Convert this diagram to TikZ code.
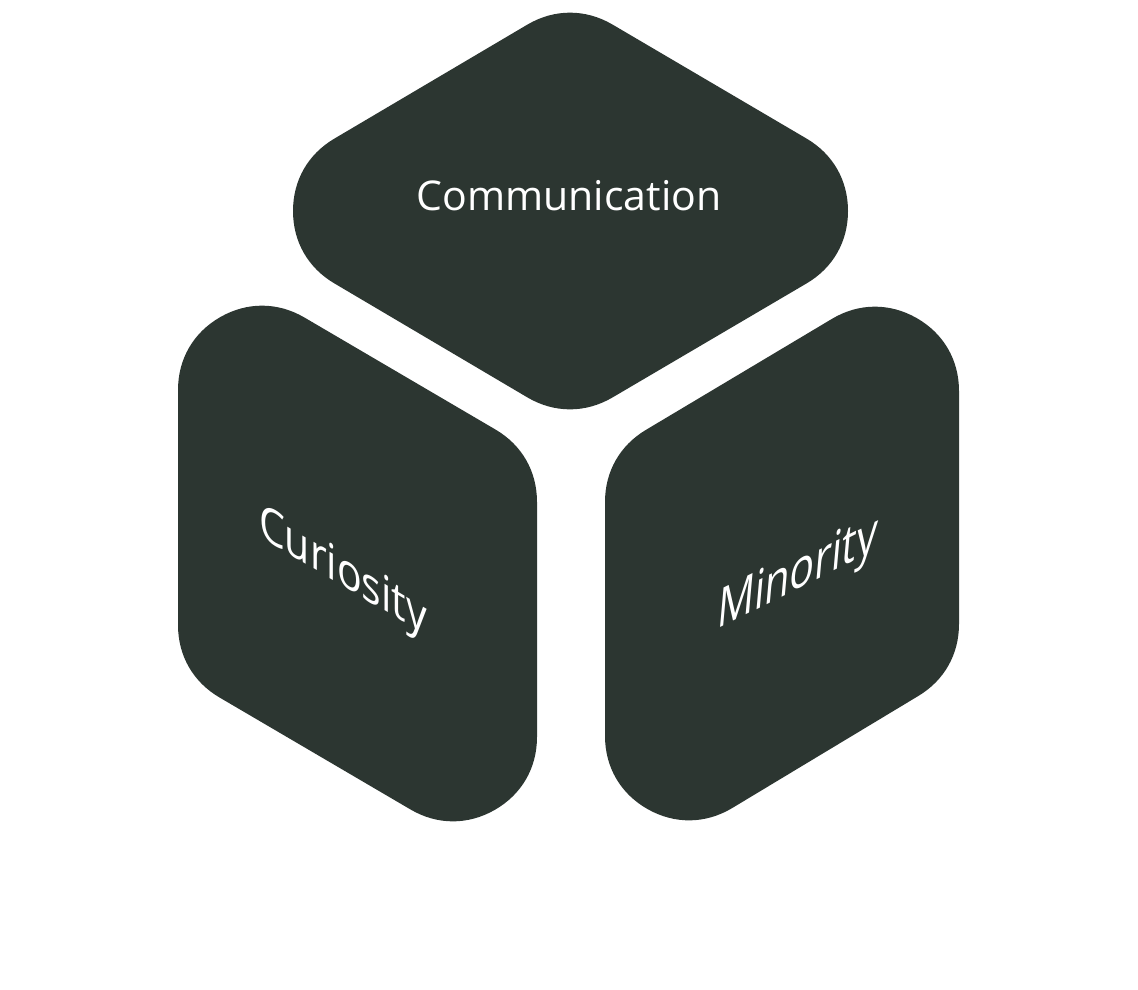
\documentclass[tikz,border=0pt]{standalone}
\usepackage{fontspec}
\setmainfont{Open Sans}
\definecolor{cubefill}{RGB}{44,54,49}
\begin{document}
\begin{tikzpicture}[x=1pt,y=-1pt,
  face/.style={fill=cubefill,draw=cubefill,line width=168pt,line join=round},
  lbl/.style={text=white,font=\fontsize{41}{49}\selectfont,inner sep=0pt}]
\useasboundingbox (0,0) rectangle (1138,989);
\fill[white] (0,0) rectangle (1138,989);
% top face
\draw[face] (377,211) -- (570,97) -- (764,211) -- (570,325) -- cycle;
% left face
\draw[face] (262,390) -- (453,502) -- (453,737) -- (262,625) -- cycle;
% right face
\draw[face] (689,502) -- (875,391) -- (875,624) -- (689,736) -- cycle;
\node[lbl] (comm) at (569,196) {Communication};
\begin{scope}[shift={(343,586)}]
  \node[lbl,anchor=base,cm={1,-0.59,0,1.2,(0,0)},transform shape] (cur) at (0,0) {Curiosity};
\end{scope}
\begin{scope}[shift={(796,590)}]
  \node[lbl,anchor=base,cm={1,0.5,0.12,1.35,(0,0)},transform shape] (min) at (0,0) {Minority};
\end{scope}
\end{tikzpicture}
\end{document}
